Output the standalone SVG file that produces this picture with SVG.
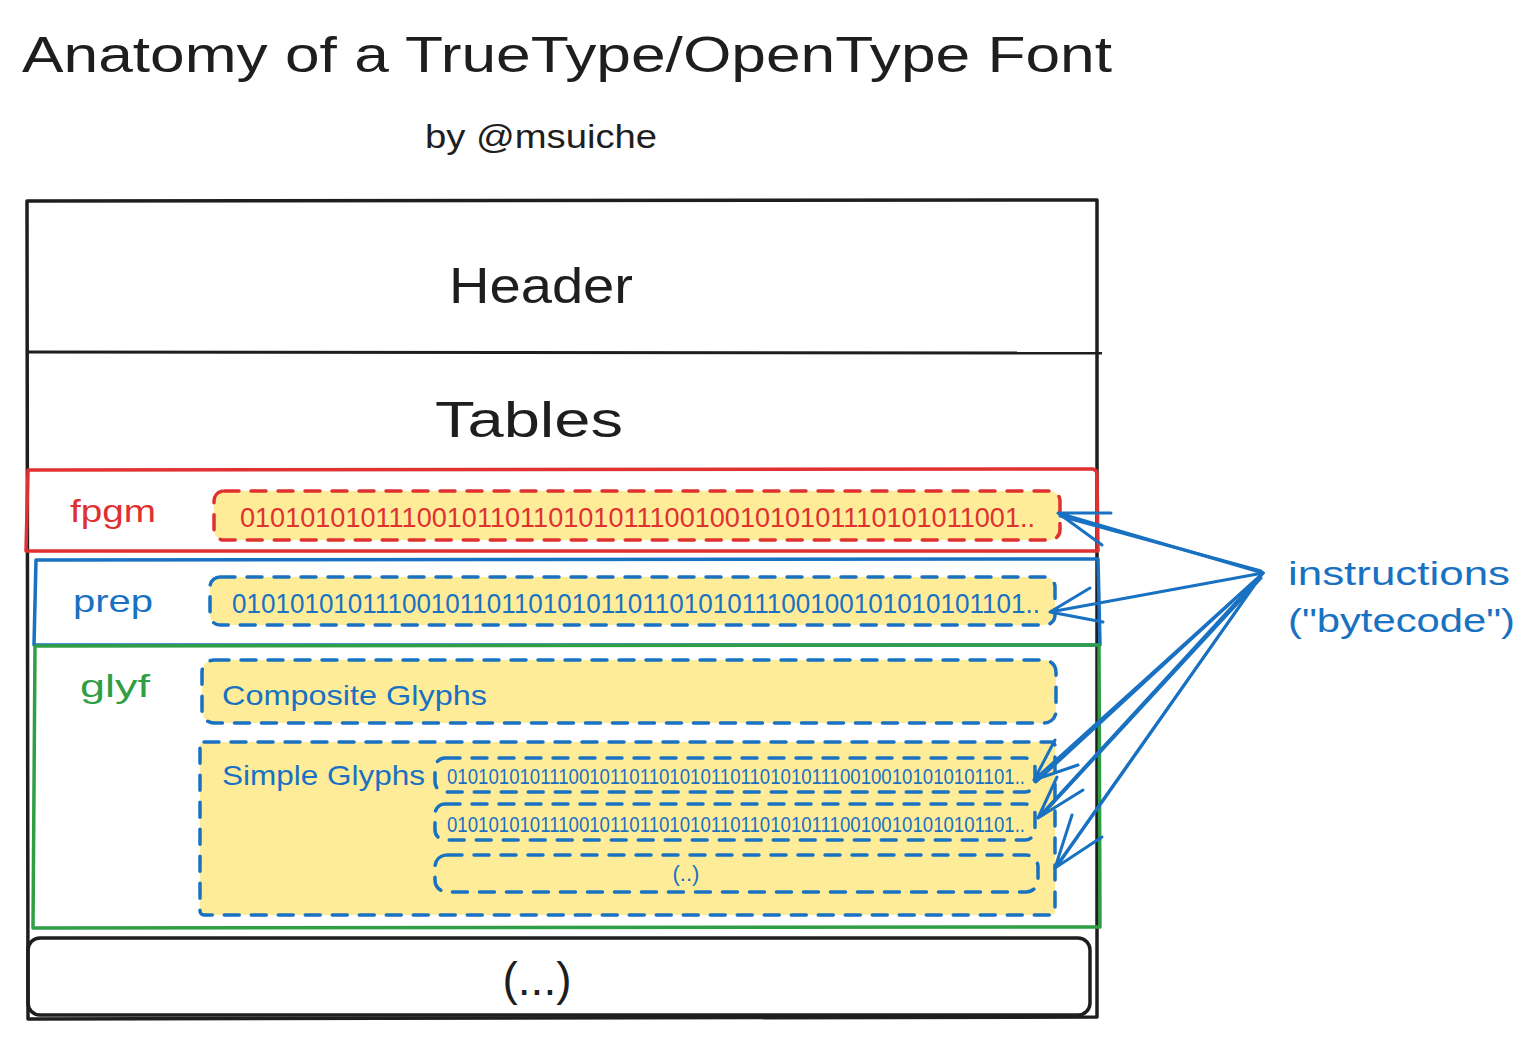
<svg xmlns="http://www.w3.org/2000/svg" width="1534" height="1039" viewBox="0 0 1534 1039">
<style>
text{font-family:"Liberation Sans","Noto Sans",sans-serif;}
.blk{fill:#1e1e1e;}
.red{fill:#e03131;}
.blu{fill:#1971c2;}
.grn{fill:#2f9e44;}
.frame{fill:none;stroke-linecap:round;stroke-linejoin:round;}
.dash{fill:#ffec99;stroke-width:3.5;stroke-dasharray:15 12;stroke-linecap:round;}
.arr{stroke:#1971c2;stroke-width:3;fill:none;stroke-linecap:round;stroke-linejoin:round;}
</style>
<rect width="1534" height="1039" fill="#ffffff"/>

<g id="title">
<text x="22" y="72" font-size="50" class="blk" textLength="1090" lengthAdjust="spacingAndGlyphs">Anatomy of a TrueType/OpenType Font</text>
<text x="425" y="148" font-size="34" class="blk" textLength="232" lengthAdjust="spacingAndGlyphs">by @msuiche</text>
</g>

<g id="font-file">
<path class="frame" d="M27 201 L1097 200 L1097 1017 L28 1019 Z" stroke="#1e1e1e" stroke-width="3.5"/>
</g>

<g id="header">
<line x1="27" y1="352" x2="1102" y2="353" stroke="#1e1e1e" stroke-width="3"/>
<text x="541" y="303" font-size="50" text-anchor="middle" class="blk" textLength="184" lengthAdjust="spacingAndGlyphs">Header</text>
</g>

<g id="tables">
<text x="529" y="437" font-size="50" text-anchor="middle" class="blk" textLength="188" lengthAdjust="spacingAndGlyphs">Tables</text>
</g>

<g id="fpgm">
<path class="frame" d="M28 470 L1093 469 Q1097 470 1097 474 L1098 551 L26 551 Z" stroke="#e03131" stroke-width="3.5"/>
<text x="70" y="522" font-size="32" class="red" textLength="86" lengthAdjust="spacingAndGlyphs">fpgm</text>
<rect x="214" y="491" width="846" height="49" rx="10" class="dash" stroke="#e03131"/>
<text x="240" y="527" font-size="28" class="red" textLength="795" lengthAdjust="spacingAndGlyphs">01010101011100101101101010111001001010101110101011001..</text>
</g>

<g id="prep">
<path class="frame" d="M36 560 L1098 559 L1100 645 L34 645 Z" stroke="#1971c2" stroke-width="3.5"/>
<text x="73" y="612" font-size="32" class="blu" textLength="80" lengthAdjust="spacingAndGlyphs">prep</text>
<rect x="210" y="577" width="845" height="48" rx="10" class="dash" stroke="#1971c2"/>
<text x="232" y="613" font-size="28" class="blu" textLength="808" lengthAdjust="spacingAndGlyphs">01010101011100101101101010110110101011100100101010101101..</text>
</g>

<g id="glyf">
<path class="frame" d="M35 646 L1099 645 L1100 927 L33 928 Z" stroke="#2f9e44" stroke-width="3.5"/>
<text x="80" y="697" font-size="32" class="grn" textLength="70" lengthAdjust="spacingAndGlyphs">glyf</text>
</g>

<g id="composite-glyphs">
<rect x="202" y="660" width="854" height="63" rx="12" class="dash" stroke="#1971c2"/>
<text x="222" y="705" font-size="28" class="blu" textLength="265" lengthAdjust="spacingAndGlyphs">Composite Glyphs</text>
</g>

<g id="simple-glyphs">
<rect x="200" y="742" width="855" height="173" rx="4" class="dash" stroke="#1971c2"/>
<text x="222" y="785" font-size="28" class="blu" textLength="203" lengthAdjust="spacingAndGlyphs">Simple Glyphs</text>
</g>

<g id="glyph-1">
<rect x="435" y="758" width="600" height="34" rx="10" class="dash" stroke="#1971c2"/>
<text x="447" y="784" font-size="22" class="blu" textLength="578" lengthAdjust="spacingAndGlyphs">01010101011100101101101010110110101011100100101010101101..</text>
</g>
<g id="glyph-2">
<rect x="435" y="804" width="600" height="36" rx="10" class="dash" stroke="#1971c2"/>
<text x="447" y="832" font-size="22" class="blu" textLength="578" lengthAdjust="spacingAndGlyphs">01010101011100101101101010110110101011100100101010101101..</text>
</g>
<g id="glyph-more">
<rect x="435" y="855" width="603" height="37" rx="12" class="dash" stroke="#1971c2"/>
<text x="686" y="881" font-size="22" text-anchor="middle" class="blu">(..)</text>
</g>

<g id="more-tables">
<rect x="28" y="938" width="1062" height="77" rx="12" fill="none" stroke="#1e1e1e" stroke-width="3.5"/>
<text x="537" y="995" font-size="46" text-anchor="middle" class="blk">(...)</text>
</g>

<g id="instructions-label">
<text x="1288" y="585" font-size="34" class="blu" textLength="222" lengthAdjust="spacingAndGlyphs">instructions</text>
<text x="1288" y="632" font-size="34" class="blu" textLength="227" lengthAdjust="spacingAndGlyphs">("bytecode")</text>
</g>

<g id="connectors">
<path class="arr" d="M1263 573 L1058 513 M1058 513 L1111 513 M1058 513 L1102 545"/>
<path class="arr" d="M1261 571 L1060 516"/>
<path class="arr" d="M1263 573 L1050 612 M1050 612 L1090 588 M1050 612 L1103 622"/>
<path class="arr" d="M1263 573 L1034 780 M1034 780 L1055 740 M1034 780 L1078 765"/>
<path class="arr" d="M1260 576 L1036 782"/>
<path class="arr" d="M1263 573 L1038 818 M1038 818 L1057 777 M1038 818 L1083 790"/>
<path class="arr" d="M1261 578 L1042 815"/>
<path class="arr" d="M1263 573 L1055 868 M1055 868 L1072 815 M1055 868 L1102 837"/>
<path class="arr" d="M1258 580 L1060 862"/>
</g>
</svg>
